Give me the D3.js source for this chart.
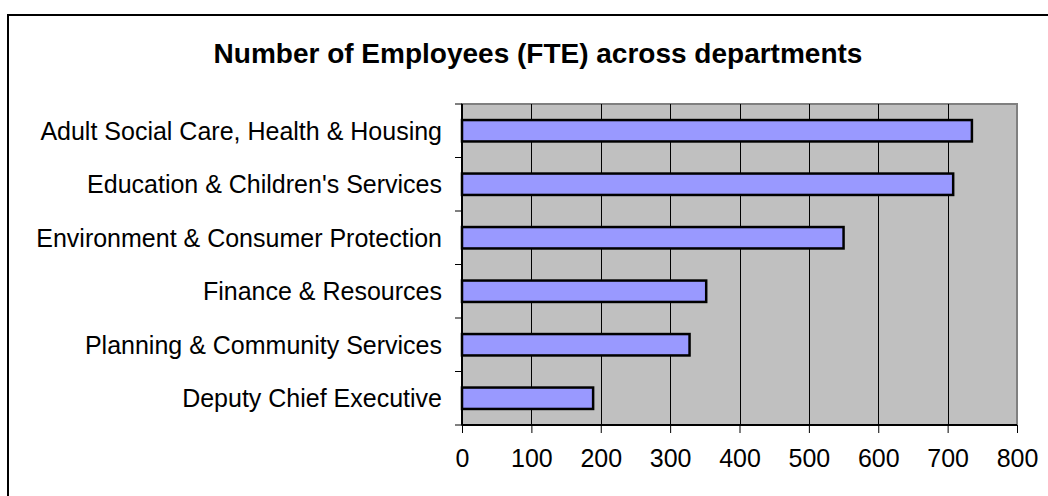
<!DOCTYPE html>
<html>
<head>
<meta charset="utf-8">
<script src="https://cdn.jsdelivr.net/npm/d3@7"></script>
<style>
  body { margin: 0; background: #fff; }
  svg { display: block; font-family: "Liberation Sans", Arial, sans-serif; }
</style>
</head>
<body>
<div id="chart"></div>
<script>
'use strict';

// departments, top to bottom
const departments = [
    'Adult Social Care, Health & Housing',
    "Education & Children's Services",
    'Environment & Consumer Protection',
    'Finance & Resources',
    'Planning & Community Services',
    'Deputy Chief Executive'
];

// FTE per department
const fte = [735, 708, 550, 352, 328, 189];

const xTicks = [0, 100, 200, 300, 400, 500, 600, 700, 800];

const title = 'Number of Employees (FTE) across departments';

const width = 1048, height = 496;
const plot = { left: 462, top: 104, right: 1017, bottom: 425 };

const svg = d3.select('#chart').append('svg')
    .attr('width', width)
    .attr('height', height);

// outer chart frame (runs off the right / bottom edge)
svg.append('rect')
    .attr('x', 8)
    .attr('y', 15)
    .attr('width', width + 20)
    .attr('height', height + 20)
    .style('fill', 'none')
    .style('stroke', '#000')
    .style('stroke-width', 2);

svg.append('text')
    .text(title)
    .attr('x', 538)
    .attr('y', 63)
    .style('font-size', '28px')
    .style('font-weight', 'bold')
    .style('text-anchor', 'middle');

let x = d3.scaleLinear()
    .domain([0, 800])
    .range([plot.left, plot.right]);

let y = d3.scaleBand()
    .domain(departments)
    .range([plot.top, plot.bottom])
    .paddingInner(0.6)
    .paddingOuter(0.3);

// plot background
svg.append('rect')
    .attr('x', plot.left)
    .attr('y', plot.top)
    .attr('width', plot.right - plot.left)
    .attr('height', plot.bottom - plot.top)
    .style('fill', '#c0c0c0')
    .style('stroke', '#808080')
    .style('stroke-width', 2);

// vertical grid lines
svg.append('g').selectAll('line')
    .data(xTicks.slice(1, -1))
    .enter().append('line')
    .attr('x1', d => Math.round(x(d)) + 0.5)
    .attr('x2', d => Math.round(x(d)) + 0.5)
    .attr('y1', plot.top)
    .attr('y2', plot.bottom)
    .style('stroke', '#000')
    .style('stroke-width', 1);

// bars
svg.append('g').selectAll('rect')
    .data(fte)
    .enter().append('rect')
    .attr('x', x(0))
    .attr('y', (d, i) => y(departments[i]))
    .attr('width', d => x(d) - x(0))
    .attr('height', y.bandwidth())
    .style('fill', '#9999ff')
    .style('stroke', '#000')
    .style('stroke-width', 2.5);

// x axis
let xAxis = svg.append('g')
    .attr('transform', 'translate(0,' + plot.bottom + ')')
    .call(d3.axisBottom(x).tickValues(xTicks).tickSize(8).tickPadding(16).tickFormat(d3.format('d')));

// y axis, ticks sit on band boundaries
let yAxis = svg.append('g')
    .attr('transform', 'translate(' + plot.left + ',0)');

yAxis.append('line')
    .attr('x1', 0).attr('x2', 0)
    .attr('y1', plot.top).attr('y2', plot.bottom)
    .style('stroke', '#000')
    .style('stroke-width', 2);

let step = (plot.bottom - plot.top) / departments.length;
yAxis.selectAll('.ytick')
    .data(d3.range(departments.length + 1))
    .enter().append('line')
    .attr('class', 'ytick')
    .attr('x1', -7).attr('x2', 0)
    .attr('y1', i => plot.top + i * step)
    .attr('y2', i => plot.top + i * step)
    .style('stroke', '#000')
    .style('stroke-width', 1);

yAxis.selectAll('.ylabel')
    .data(departments)
    .enter().append('text')
    .attr('class', 'ylabel')
    .text(d => d)
    .attr('x', -20)
    .attr('y', d => y(d) + y.bandwidth() / 2)
    .attr('dy', '0.35em')
    .style('font-size', '25px')
    .style('text-anchor', 'end');

xAxis.select('.domain')
    .style('stroke', '#000')
    .style('stroke-width', 2)
    .attr('d', 'M' + plot.left + ',0H' + plot.right);

xAxis.selectAll('.tick line').style('stroke', '#000');

xAxis.selectAll('.tick text')
    .style('font-size', '25px')
    .style('font-family', '"Liberation Sans", Arial, sans-serif')
    .style('fill', '#000');
</script>
</body>
</html>
